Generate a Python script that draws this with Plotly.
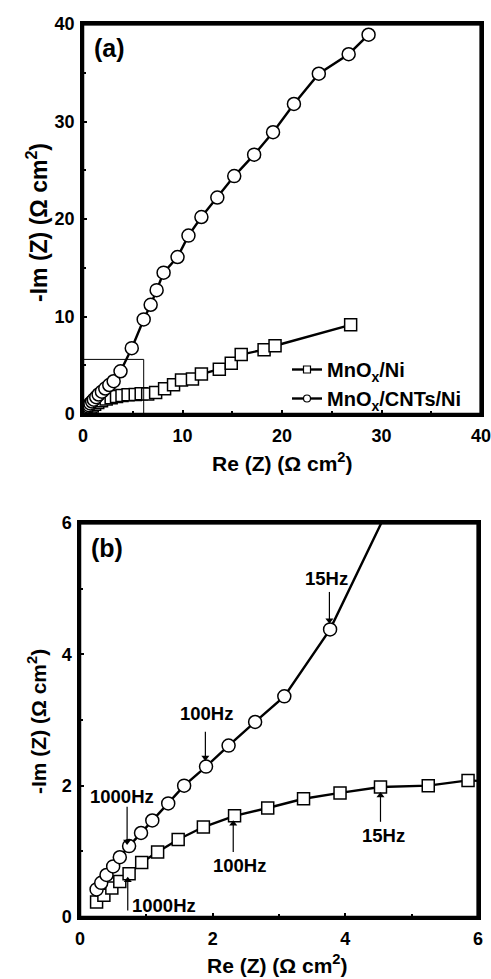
import plotly.graph_objects as go

# MnOx/Ni (squares)
ni_x = [0.25, 0.36, 0.48, 0.60, 0.74, 0.93, 1.17, 1.48, 1.86, 2.33, 2.83, 3.37, 3.92, 4.53, 5.25, 5.85,
        6.5, 7.3, 8.2, 9.1, 9.9, 11.0, 11.9, 13.7, 14.9, 15.9, 18.2, 19.3, 26.9]
ni_y = [0.23, 0.33, 0.44, 0.54, 0.66, 0.83, 0.99, 1.18, 1.37, 1.54, 1.66, 1.80, 1.89, 1.98, 2.00, 2.08,
        2.05, 2.2, 2.6, 3.0, 3.5, 3.6, 4.1, 4.6, 5.2, 6.1, 6.6, 7.0, 9.15]

# MnOx/CNTs/Ni (circles)
cnt_x = [0.25, 0.32, 0.40, 0.50, 0.60, 0.74, 0.92, 1.09, 1.33, 1.57, 1.90, 2.24, 2.64, 3.08, 3.77,
         4.9, 6.1, 6.8, 7.4, 8.1, 9.5, 10.6, 11.9, 13.5, 15.2, 17.2, 19.1, 21.2, 23.7, 26.7, 28.7]
cnt_y = [0.42, 0.52, 0.64, 0.77, 0.91, 1.08, 1.28, 1.47, 1.73, 2.00, 2.29, 2.61, 2.97, 3.36, 4.38,
         6.75, 9.7, 11.2, 12.7, 14.5, 16.1, 18.3, 20.2, 22.2, 24.4, 26.6, 28.9, 31.8, 34.9, 36.9, 38.9]

names = ["MnO<sub>x</sub>/Ni", "MnO<sub>x</sub>/CNTs/Ni"]

# frequency labels in panel (b): text, text x, text y, arrow x, arrow tail y, arrow head y
freq_text = ["15Hz", "100Hz", "1000Hz", "100Hz", "15Hz", "1000Hz"]
freq_tx = [3.72, 1.90, 0.64, 2.41, 4.58, 1.26]
freq_ty = [5.15, 3.10, 1.83, 0.78, 1.24, 0.18]
arr_x = [3.76, 1.89, 0.71, 2.31, 4.53, 0.72]
arr_y0 = [4.95, 2.82, 1.68, 0.99, 1.45, 0.10]
arr_y1 = [4.52, 2.43, 1.15, 1.42, 1.85, 0.56]

FONT = "Liberation Sans"
W, H = 491, 979
# panel boxes in pixels (left, right, top, bottom)
A = (83, 481, 24, 414)
B = (80, 478, 523, 917)

fig = go.Figure()
line = dict(color="black", width=2.4)
sq = dict(symbol="square", size=12, color="white", line=dict(color="black", width=1.5))
ci = dict(symbol="circle", size=13, color="white", line=dict(color="black", width=1.5))

for xa, ya in [("x", "y"), ("x2", "y2")]:
    fig.add_trace(go.Scatter(x=ni_x, y=ni_y, mode="lines+markers", line=line, marker=sq,
                             xaxis=xa, yaxis=ya, showlegend=False, hoverinfo="skip"))
    fig.add_trace(go.Scatter(x=cnt_x, y=cnt_y, mode="lines+markers", line=line, marker=ci,
                             xaxis=xa, yaxis=ya, showlegend=False, hoverinfo="skip"))

# legend entries (small symbols)
fig.add_trace(go.Scatter(x=[None], y=[None], mode="lines+markers", name=names[0],
                         line=dict(color="black", width=2.4),
                         marker=dict(symbol="square", size=7, color="white", line=dict(color="black", width=1.2))))
fig.add_trace(go.Scatter(x=[None], y=[None], mode="lines+markers", name=names[1],
                         line=dict(color="black", width=2.4),
                         marker=dict(symbol="circle", size=7, color="white", line=dict(color="black", width=1.2))))

# frequency arrows in panel (b)
for ax_, y0, y1 in zip(arr_x, arr_y0, arr_y1):
    sym = "triangle-down" if y1 < y0 else "triangle-up"
    fig.add_trace(go.Scatter(x=[ax_, ax_], y=[y0, y1], mode="lines", xaxis="x2", yaxis="y2",
                             line=dict(color="black", width=1.2), showlegend=False, hoverinfo="skip"))
    fig.add_trace(go.Scatter(x=[ax_], y=[y1], mode="markers", xaxis="x2", yaxis="y2",
                             marker=dict(symbol=sym, size=7, color="black", line=dict(width=0)),
                             showlegend=False, hoverinfo="skip"))

axis_common = dict(showline=True, linecolor="black", linewidth=2.5, mirror=True,
                   ticks="inside", ticklen=4, tickwidth=2, tickcolor="black",
                   showgrid=False, zeroline=False, automargin=False, ticklabeloverflow="allow",
                   tickfont=dict(family=FONT, size=18, color="black", weight="bold"))

fig.update_layout(
    width=W, height=H, margin=dict(l=0, r=0, t=0, b=0, autoexpand=False),
    paper_bgcolor="white", plot_bgcolor="white",
    font=dict(family=FONT, color="black"),
    xaxis=dict(domain=[A[0] / W, A[1] / W], range=[0, 40], dtick=10, anchor="y",
               minor=dict(ticks="inside", dtick=5, ticklen=3, tickwidth=2, tickcolor="black"),
               ticklabelstandoff=4, **axis_common),
    yaxis=dict(domain=[1 - A[3] / H, 1 - A[2] / H], range=[0, 40], dtick=10, anchor="x",
               minor=dict(ticks="inside", dtick=5, ticklen=3, tickwidth=2, tickcolor="black"),
               ticklabelstandoff=2, **axis_common),
    xaxis2=dict(domain=[B[0] / W, B[1] / W], range=[0, 6], dtick=2, anchor="y2",
                minor=dict(ticks="inside", dtick=1, ticklen=3, tickwidth=2, tickcolor="black"),
                ticklabelstandoff=4, **axis_common),
    yaxis2=dict(domain=[1 - B[3] / H, 1 - B[2] / H], range=[0, 6], dtick=2, anchor="x2",
                minor=dict(ticks="inside", dtick=1, ticklen=3, tickwidth=2, tickcolor="black"),
                ticklabelstandoff=2, **axis_common),
    legend=dict(x=287 / W, y=1 - 350 / H, xanchor="left", yanchor="top",
                bgcolor="rgba(0,0,0,0)",
                font=dict(family=FONT, size=20, color="black", weight="bold")),
    showlegend=True,
)

# plot frames (paper coordinates) with explicit top and right edges
for (l, r, t, b) in [A, B]:
    fig.add_shape(type="rect", xref="paper", yref="paper", x0=l / W, x1=r / W, y0=1 - b / H, y1=1 - t / H,
                  line=dict(color="black", width=2.5), layer="above")
    fig.add_shape(type="line", xref="paper", yref="paper", x0=l / W, x1=r / W, y0=1 - t / H, y1=1 - t / H,
                  line=dict(color="black", width=3), layer="above")
    fig.add_shape(type="line", xref="paper", yref="paper", x0=r / W, x1=r / W, y0=1 - b / H, y1=1 - t / H,
                  line=dict(color="black", width=3), layer="above")

# zoom box in panel (a)
fig.add_shape(type="rect", xref="x", yref="y", x0=0, y0=0, x1=6.1, y1=5.6,
              line=dict(color="black", width=1))

bold = dict(family=FONT, color="black", weight="bold")
title_x = "Re (Z) (Ω cm<sup>2</sup>)"
title_y = "-Im (Z) (Ω cm<sup>2</sup>)"
ann = [
    dict(text="(a)", x=92 / W, y=1 - 48 / H, xanchor="left", yanchor="middle", font=dict(size=25, **bold)),
    dict(text="(b)", x=89 / W, y=1 - 548 / H, xanchor="left", yanchor="middle", font=dict(size=25, **bold)),
    dict(text=title_x, x=282 / W, y=1 - 462 / H, xanchor="center", yanchor="middle", font=dict(size=21, **bold)),
    dict(text=title_y, x=37 / W, y=1 - 223 / H, xanchor="center", yanchor="middle", textangle=-90,
         font=dict(size=23, **bold)),
    dict(text=title_x, x=277 / W, y=1 - 964 / H, xanchor="center", yanchor="middle", font=dict(size=21, **bold)),
    dict(text=title_y, x=37 / W, y=1 - 722 / H, xanchor="center", yanchor="middle", textangle=-90,
         font=dict(size=21, **bold)),
]
for a in ann:
    fig.add_annotation(xref="paper", yref="paper", showarrow=False, **a)

for t, tx, ty in zip(freq_text, freq_tx, freq_ty):
    fig.add_annotation(xref="x2", yref="y2", x=tx, y=ty, text=t, showarrow=False,
                       font=dict(size=18.5, **bold))

fig.write_html("out.html", config={"displayModeBar": False, "responsive": False},
               post_script="document.body.style.margin='0';document.body.style.overflow='hidden';")
